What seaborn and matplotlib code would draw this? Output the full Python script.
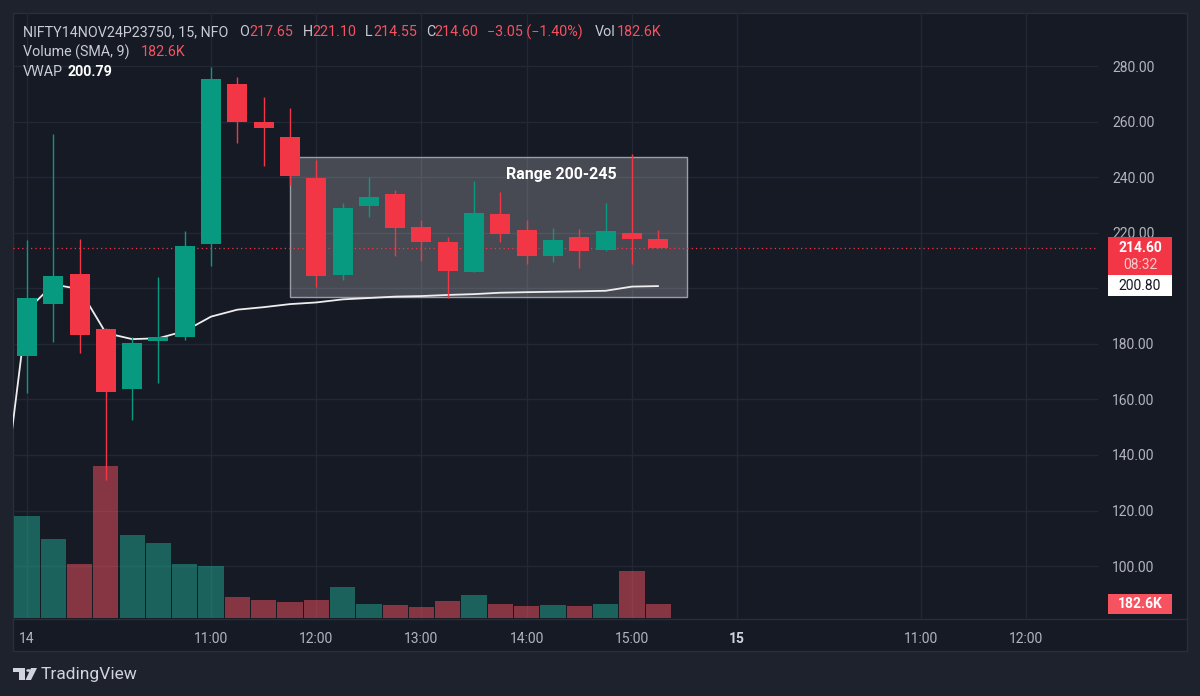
import numpy as np
import pandas as pd
import seaborn as sns
import matplotlib
matplotlib.use("Agg")
import matplotlib.pyplot as plt
from matplotlib import font_manager, transforms
from matplotlib.patches import Rectangle, Polygon, Circle

# ---------------- data ----------------
opens = [175.7, 194.2, 205.1, 185.2, 163.6, 181.1, 182.6, 216.0, 273.5, 260.0, 254.6, 239.8, 204.8,
         229.7, 233.9, 221.9, 216.5, 206.0, 226.6, 221.0, 211.7, 218.3, 213.8, 219.8, 217.65]
highs = [217.4, 255.5, 217.6, 185.6, 182.3, 203.9, 220.7, 279.5, 276.2, 268.7, 265.0, 246.2, 230.8,
         240.2, 235.4, 224.6, 218.6, 238.7, 234.5, 224.6, 221.8, 221.2, 230.6, 248.3, 221.10]
lows = [162.2, 180.8, 176.6, 131.0, 152.6, 166.0, 181.4, 208.0, 252.2, 244.0, 237.2, 200.6, 203.0,
        225.5, 211.7, 209.9, 196.4, 205.8, 216.8, 208.7, 209.6, 207.2, 213.6, 208.7, 214.55]
closes = [196.4, 204.4, 183.2, 162.8, 180.2, 182.6, 215.2, 275.3, 260.0, 257.6, 240.5, 204.5, 229.0,
          233.0, 221.6, 216.8, 206.3, 227.0, 219.5, 211.7, 217.4, 213.5, 220.6, 217.65, 214.60]
volumes_k = [1306, 1009, 690, 1945, 1064, 953, 690, 668, 263, 234, 208, 234, 391, 183, 170, 135,
             221, 289, 183, 148, 170, 148, 183, 604, 182.6]
# VWAP values from the previous session's last bar (-1) to the last bar (24)
vwap_idx = list(range(-1, 25))
vwap = [116.0, 192.0, 201.4, 199.7, 183.9, 181.7, 182.0, 184.6, 189.8, 192.3, 193.2, 194.3, 194.9,
        196.0, 196.5, 197.0, 197.2, 197.6, 197.9, 198.4, 198.6, 198.75, 198.9, 199.1, 200.6, 200.79]
vwap_axis_value = 200.80
price_ticks = [100, 120, 140, 160, 180, 200, 220, 240, 260, 280]
hidden_price_ticks = [200]  # covered by the VWAP badge in the original
time_tick_idx = [0, 7, 11, 15, 19, 23, 27, 34, 38]
time_tick_labels = ["14", "11:00", "12:00", "13:00", "14:00", "15:00", "15", "11:00", "12:00"]
symbol = "NIFTY14NOV24P23750, 15, NFO"
countdown = "08:32"
range_label = "Range 200-245"
range_x0, range_x1 = 10.0, 25.1
range_lo, range_hi = 196.8, 247.2
range_text_x, range_text_y = 20.3, 241.1

# ---------------- style ----------------
sns.set_theme(style="dark")
avail = {f.name for f in font_manager.fontManager.ttflist}
main_font = next((f for f in ["Roboto", "Lato", "Open Sans", "DejaVu Sans"] if f in avail), "DejaVu Sans")
plt.rcParams["font.family"] = [main_font, "DejaVu Sans"]
plt.rcParams["axes.unicode_minus"] = False

BG_OUT = "#1e222d"
BG = "#161a25"
GRID = "#232835"
TXT = "#b2b5be"
UP = "#089981"
DOWN = "#f23645"
REDTXT = "#f7525f"

W, H = 1200, 696
fig = plt.figure(figsize=(W / 100, H / 100), dpi=100, facecolor=BG_OUT)

# outer frame
fig.patches.append(Rectangle((13 / W, 1 - 651 / H), (1187 - 13) / W, (651 - 13) / H,
                             transform=fig.transFigure, facecolor=BG, edgecolor="#2a2e39",
                             lw=1, zorder=-2))
fig.lines.append(plt.Line2D([13 / W, 1187 / W], [1 - 618.5 / H, 1 - 618.5 / H],
                            transform=fig.transFigure, color="#2a2e39", lw=1, zorder=-1))

rect = [13 / W, 1 - 618 / H, 1085 / W, 605 / H]
ax_vol = fig.add_axes(rect)
ax = fig.add_axes(rect)
ax_vol.set_facecolor("none")
ax.patch.set_visible(False)

n = len(opens)
idx = np.arange(n)
o = np.array(opens); c = np.array(closes); h = np.array(highs); l = np.array(lows)
up = c >= o
cols = np.where(up, UP, DOWN)

xlim = (-0.53, 40.72)
ylim = (81.3, 299.1)

# ---------- volume (seaborn) ----------
df_vol = pd.DataFrame({"idx": idx, "volume": volumes_k, "dir": np.where(up, "up", "down")})
sns.barplot(data=df_vol, x="idx", y="volume", hue="dir",
            palette={"up": "#22ab94", "down": "#f7525f"}, native_scale=True, dodge=False,
            width=0.96, alpha=0.5, saturation=1, linewidth=0, legend=False, ax=ax_vol, zorder=2)
ax_vol.set_xlim(*xlim)
ax_vol.set_ylim(0, 7726)
ax_vol.set_xlabel(""); ax_vol.set_ylabel("")
ax_vol.set_xticks(time_tick_idx)
ax_vol.set_yticks([])
ax_vol.tick_params(labelbottom=False, length=0)
ax_vol.grid(axis="x", color=GRID, lw=1, zorder=0)
ax_vol.set_axisbelow(True)
blend_grid = transforms.blended_transform_factory(ax_vol.transAxes, ax.transData)
ax_vol.hlines(price_ticks, 0, 1, transform=blend_grid, colors=GRID, lw=1, zorder=0)
for s in ax_vol.spines.values():
    s.set_visible(False)

# ---------- price ----------
ax.set_xlim(*xlim)
ax.set_ylim(*ylim)
ax.add_patch(Rectangle((range_x0, range_lo), range_x1 - range_x0, range_hi - range_lo,
                       facecolor=(1, 1, 1, 0.21), edgecolor="#9a9da6", lw=1, zorder=1))
sns.lineplot(x=vwap_idx, y=vwap, ax=ax, color="#eeeeee", linewidth=1.3, zorder=2,
             estimator=None, sort=True)
ax.axhline(c[-1], color=DOWN, lw=0.9, ls=(0, (1, 2.5)), zorder=2)
ax.vlines(idx, l, h, colors=cols, linewidth=1, zorder=3)
ax.bar(idx, np.maximum(np.abs(c - o), 0.4), bottom=np.minimum(o, c), width=0.76,
       color=cols, linewidth=0, zorder=4)
ax.text(range_text_x, range_text_y, range_label, color="white", fontsize=11.5,
        fontweight="bold", ha="center", va="center", zorder=6)

ax.set_xlabel(""); ax.set_ylabel("")
ax.yaxis.tick_right()
ax.set_yticks(price_ticks)
ax.set_yticklabels(["" if t in hidden_price_ticks else f"{t:.2f}" for t in price_ticks])
ax.tick_params(axis="y", length=0, pad=10, labelcolor=TXT, labelsize=10)
ax.set_xticks(time_tick_idx)
ax.set_xticklabels(time_tick_labels)
ax.tick_params(axis="x", length=0, pad=10, labelcolor=TXT, labelsize=10)
for lbl in ax.get_xticklabels():
    if lbl.get_text() == "15":
        lbl.set_fontweight("bold")
        lbl.set_color("#d1d4dc")
ax.grid(False)
for s in ax.spines.values():
    s.set_visible(False)

# ---------- right-scale badges ----------
bx0 = (1108 - 13) / 1085
bw = (1172 - 13) / 1085 - bx0
bxc = bx0 + bw / 2
tp = transforms.blended_transform_factory(ax.transAxes, ax.transData)
tv = transforms.blended_transform_factory(ax.transAxes, ax_vol.transData)
last = c[-1]
ax.add_patch(Rectangle((bx0, last - 9.8), bw, 13.65, transform=tp, facecolor=DOWN,
                       edgecolor="none", clip_on=False, zorder=10))
ax.text(bxc, last, f"{last:.2f}", transform=tp, ha="center", va="center", color="white",
        fontsize=10, fontweight="bold", zorder=11, clip_on=False)
ax.text(bxc, last - 6.3, countdown, transform=tp, ha="center", va="center", color="#fbc9cd",
        fontsize=10, zorder=11, clip_on=False)
ax.add_patch(Rectangle((bx0, vwap_axis_value - 3.6), bw, last - 9.8 - (vwap_axis_value - 3.6),
                       transform=tp, facecolor="white", edgecolor="none", clip_on=False, zorder=10))
ax.text(bxc, vwap_axis_value, f"{vwap_axis_value:.2f}", transform=tp, ha="center", va="center",
        color="#131722", fontsize=10, zorder=11, clip_on=False)
vlast = volumes_k[-1]
ax.add_patch(Rectangle((bx0, vlast - 127), bw, 255, transform=tv, facecolor="#f7525f",
                       edgecolor="none", clip_on=False, zorder=10))
ax.text(bxc, vlast, f"{vlast:.1f}K", transform=tv, ha="center", va="center", color="white",
        fontsize=10, fontweight="bold", zorder=11, clip_on=False)

# ---------- legend header ----------
chg = c[-1] - c[-2]
pct = chg / c[-2] * 100
def ftxt(x, y, s, color, **kw):
    fig.text(x / W, 1 - y / H, s, color=color, fontsize=10.3, va="center", ha="left", **kw)

ftxt(23, 32, symbol, "#c9ccd4")
ftxt(239, 32, "O", "#c9ccd4"); ftxt(249, 32, f"{o[-1]:.2f}", REDTXT)
ftxt(303, 32, "H", "#c9ccd4"); ftxt(312, 32, f"{h[-1]:.2f}", REDTXT)
ftxt(365, 32, "L", "#c9ccd4"); ftxt(373, 32, f"{l[-1]:.2f}", REDTXT)
ftxt(426, 32, "C", "#c9ccd4"); ftxt(434, 32, f"{c[-1]:.2f}", REDTXT)
ftxt(487, 32, f"\u2212{abs(chg):.2f} (\u2212{abs(pct):.2f}%)", REDTXT)
ftxt(595, 32, "Vol", "#c9ccd4"); ftxt(617, 32, f"{vlast:.1f}K", REDTXT)
ftxt(23, 52, "Volume (SMA, 9)", "#c9ccd4"); ftxt(141, 52, f"{vlast:.1f}K", REDTXT)
ftxt(23, 72, "VWAP", "#c9ccd4"); ftxt(68, 72, f"{vwap[-1]:.2f}", "white", fontweight="bold")

# ---------- TradingView logo ----------
LOGO = "#d1d4dc"
def fp(x, y):
    return (x / W, 1 - y / H)
fig.patches.append(Polygon([fp(13, 668), fp(25, 668), fp(25, 680), fp(19, 680), fp(19, 672), fp(13, 672)],
                           closed=True, transform=fig.transFigure, facecolor=LOGO, edgecolor="none"))
fig.patches.append(Circle(fp(28.5, 670.5), 2.3 / W, transform=fig.transFigure, facecolor=LOGO,
                          edgecolor="none"))
fig.patches.append(Polygon([fp(31, 668), fp(37, 668), fp(31, 680), fp(25.5, 680)], closed=True,
                           transform=fig.transFigure, facecolor=LOGO, edgecolor="none"))
fig.text(41 / W, 1 - 675 / H, "TradingView", color=LOGO, fontsize=12.5, va="center", ha="left")

fig.savefig("out.png", dpi=100, facecolor=BG_OUT)
